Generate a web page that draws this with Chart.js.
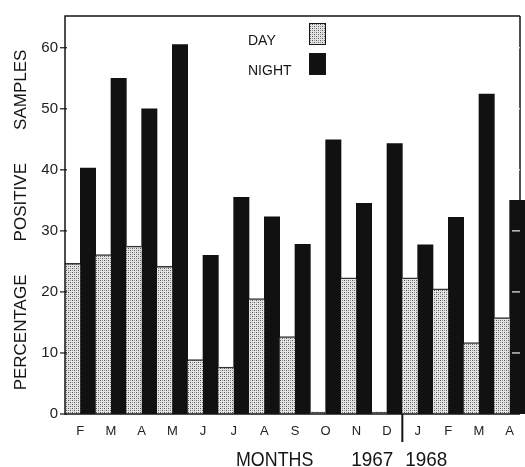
<!DOCTYPE html>
<html>
<head>
<meta charset="utf-8">
<script src="https://cdn.jsdelivr.net/npm/chart.js@4.4.0/dist/chart.umd.min.js"></script>
<style>
  body { margin: 0; background: #fff; }
</style>
</head>
<body>
<canvas id="myChart" width="525" height="467"></canvas>
<script>
const months = ['F', 'M', 'A', 'M', 'J', 'J', 'A', 'S', 'O', 'N', 'D', 'J', 'F', 'M', 'A'];
const dayValues = [24.7, 26.1, 27.5, 24.2, 8.9, 7.7, 18.9, 12.7, 0.3, 22.3, 0.3, 22.3, 20.5, 11.7, 15.8];
const nightValues = [40.3, 55.0, 50.0, 60.5, 26.0, 35.5, 32.3, 27.8, 44.9, 34.5, 44.3, 27.7, 32.2, 52.4, 35.0];
const yTicks = [0, 10, 20, 30, 40, 50, 60];
const seriesNames = ['DAY', 'NIGHT'];
const yTitle = 'PERCENTAGE       POSITIVE       SAMPLES';
const xTitle = 'MONTHS';
const years = ['1967', '1968'];

const font = '"Liberation Sans", Arial, sans-serif';
const ink = '#151515';

// stippled fill for the day bars
function makeStipple() {
    const c = document.createElement('canvas');
    c.width = 4;
    c.height = 4;
    const g = c.getContext('2d');
    g.fillStyle = '#e4e4e4';
    g.fillRect(0, 0, 4, 4);
    g.fillStyle = '#555';
    g.fillRect(0, 0, 1, 1);
    g.fillRect(2, 2, 1, 1);
    g.fillStyle = '#999';
    g.fillRect(2, 0, 1, 1);
    g.fillRect(0, 2, 1, 1);
    return g.createPattern(c, 'repeat');
}
const stipple = makeStipple();

const decor = {
    id: 'decor',
    beforeDatasetsDraw(chart) {
        const { ctx, chartArea: a } = chart;
        ctx.save();
        ctx.strokeStyle = ink;
        ctx.lineWidth = 1.5;
        ctx.beginPath();
        ctx.moveTo(a.right - 5, a.top);
        ctx.lineTo(a.right - 5, a.bottom);
        ctx.stroke();
        ctx.restore();
    },
    afterDatasetsDraw(chart) {
        const { ctx, chartArea: a, scales } = chart;
        const x = scales.x, y = scales.y;
        const r = a.right - 5;
        ctx.save();
        ctx.strokeStyle = ink;
        ctx.lineWidth = 1.5;
        ctx.beginPath();
        ctx.moveTo(r, a.top);
        ctx.lineTo(a.left, a.top);
        ctx.lineTo(a.left, a.bottom);
        ctx.lineTo(r, a.bottom);
        ctx.stroke();

        // tick marks on the left axis
        ctx.lineWidth = 1.2;
        yTicks.forEach((v) => {
            const py = y.getPixelForValue(v);
            ctx.beginPath();
            ctx.moveTo(a.left - 5, py);
            ctx.lineTo(a.left + 2, py);
            ctx.stroke();
        });

        // tick marks on the right frame, inverted over dark bars
        ctx.globalCompositeOperation = 'difference';
        ctx.strokeStyle = '#fff';
        yTicks.slice(1).forEach((v) => {
            const py = y.getPixelForValue(v);
            ctx.beginPath();
            ctx.moveTo(r - 8, py);
            ctx.lineTo(r, py);
            ctx.stroke();
        });
        ctx.globalCompositeOperation = 'source-over';

        // legend
        ctx.fillStyle = ink;
        ctx.font = '14px ' + font;
        ctx.textAlign = 'left';
        ctx.textBaseline = 'alphabetic';
        chart.data.datasets.forEach((ds, i) => {
            const top = 23 + i * 30;
            ctx.fillStyle = ink;
            ctx.fillText(ds.label, 248, top + 22);
            ctx.fillStyle = ds.backgroundColor;
            ctx.fillRect(309, top, 17, 22);
            ctx.strokeStyle = ink;
            ctx.lineWidth = 1;
            ctx.strokeRect(309.5, top + 0.5, 16, 21);
        });

        // year divider under the axis
        const split = (x.getPixelForValue(10) + x.getPixelForValue(11)) / 2;
        ctx.strokeStyle = ink;
        ctx.lineWidth = 2;
        ctx.beginPath();
        ctx.moveTo(split, a.bottom);
        ctx.lineTo(split, a.bottom + 28);
        ctx.stroke();

        // axis titles
        ctx.fillStyle = ink;
        ctx.save();
        ctx.translate(236, 466);
        ctx.scale(0.85, 1);
        ctx.font = '21px ' + font;
        ctx.textAlign = 'left';
        ctx.fillText(xTitle, 0, 0);
        ctx.restore();

        ctx.save();
        ctx.font = '21px ' + font;
        ctx.translate(split - 9, 466);
        ctx.scale(0.9, 1);
        ctx.textAlign = 'right';
        ctx.fillText(years[0], 0, 0);
        ctx.restore();

        ctx.save();
        ctx.font = '21px ' + font;
        ctx.translate(split + 3, 466);
        ctx.scale(0.9, 1);
        ctx.textAlign = 'left';
        ctx.fillText(years[1], 0, 0);
        ctx.restore();

        ctx.save();
        ctx.translate(21, 220);
        ctx.rotate(-Math.PI / 2);
        ctx.font = '17px ' + font;
        ctx.textAlign = 'center';
        ctx.textBaseline = 'middle';
        ctx.fillText(yTitle, 0, 0);
        ctx.restore();

        ctx.restore();
    }
};

const ctx = document.getElementById('myChart');

const myChart = new Chart(ctx, {
    type: 'bar',
    data: {
        labels: months,
        datasets: [{
            label: seriesNames[0],
            data: dayValues,
            backgroundColor: stipple,
            borderColor: '#333',
            borderWidth: { top: 1.5, left: 0, right: 0, bottom: 0 },
            borderSkipped: false,
            barPercentage: 1,
            categoryPercentage: 1
        }, {
            label: seriesNames[1],
            data: nightValues,
            backgroundColor: '#111',
            borderWidth: 0,
            barPercentage: 1,
            categoryPercentage: 1
        }]
    },
    options: {
        responsive: false,
        animation: false,
        layout: { padding: { left: 0, right: 0, top: 12, bottom: 0 } },
        plugins: {
            legend: { display: false },
            tooltip: { enabled: false }
        },
        scales: {
            x: {
                grid: { display: false, drawTicks: false },
                border: { display: false },
                ticks: {
                    color: '#222',
                    font: { size: 13, family: font },
                    padding: 10,
                    maxRotation: 0,
                    autoSkip: false
                },
                afterFit(scale) { scale.height = 53; }
            },
            y: {
                min: 0,
                max: 65.2,
                afterBuildTicks(scale) {
                    scale.ticks = yTicks.map((v) => ({ value: v }));
                },
                grid: { display: false, drawTicks: false },
                border: { display: false },
                ticks: {
                    color: '#222',
                    font: { size: 15, family: font },
                    padding: 7
                },
                afterFit(scale) { scale.width = 65; }
            }
        }
    },
    plugins: [decor]
});
</script>
</body>
</html>
